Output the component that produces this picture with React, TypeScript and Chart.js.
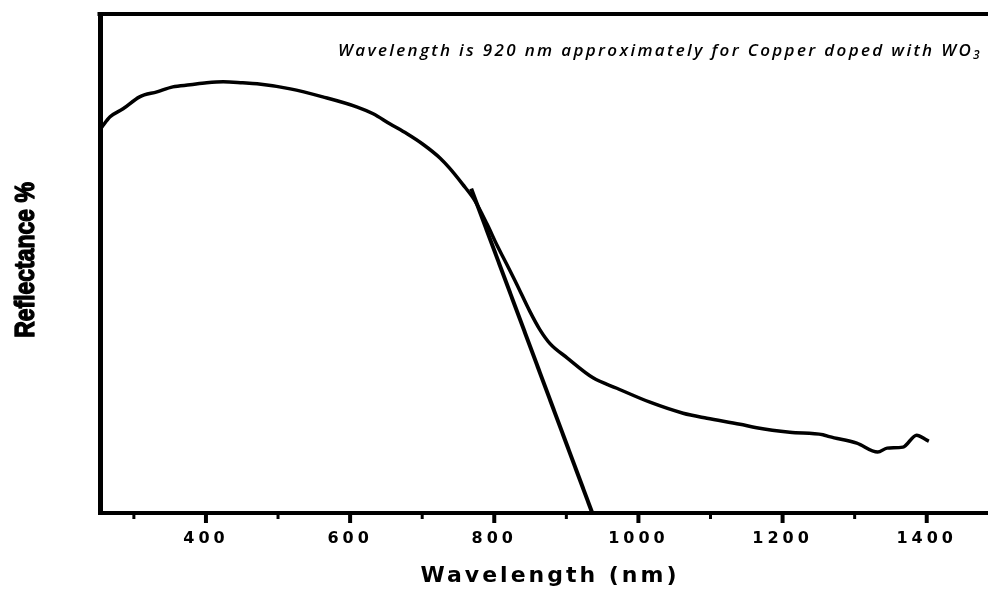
import { useEffect, useRef } from "react";
import { Chart, registerables } from "chart.js";

Chart.register(...registerables);

// Diffuse reflectance spectrum of Cu-doped WO3
const wavelengthNm = [
  253, 256, 267, 285, 308, 332, 354, 378, 401, 424, 451, 471, 517, 562, 609, 632,
  655, 679, 701, 725, 738, 756, 773, 790, 804, 815, 831, 849, 863, 877, 901, 937,
  970, 1016, 1062, 1095, 1141, 1164, 1210, 1256, 1265, 1303, 1332, 1345, 1367,
  1386, 1400, 1403,
];
const reflectancePct = [
  76.8, 77.4, 79.4, 81.0, 83.4, 84.4, 85.4, 85.8, 86.2, 86.4, 86.2, 86.0, 85.0, 83.4,
  81.4, 80.0, 78.0, 76.0, 73.9, 71.1, 69.1, 65.9, 62.6, 57.9, 53.6, 50.5, 45.9, 40.5,
  36.8, 34.0, 31.1, 27.1, 25.0, 22.2, 20.0, 19.0, 17.8, 17.1, 16.2, 15.7, 15.3, 14.0,
  12.2, 13.0, 13.2, 15.6, 14.6, 14.4,
];

// Tangent to the absorption edge, extrapolated to zero reflectance
const tangentNm = [768, 936];
const tangentPct = [65, 0];

// Axis ticks
const majorTicks = [400, 600, 800, 1000, 1200, 1400];
const minorTicks = [300, 500, 700, 900, 1100, 1300];

const xTitle = "Wavelength (nm)";
const yTitle = "Reflectance %";
const annotation = "Wavelength is 920 nm approximately for Copper doped with WO";
const annotationSub = "3";

const framePlugin = {
  id: "frame",
  beforeDraw(chart: any) {
    // wide tracking for the tick labels
    chart.ctx.letterSpacing = "4px";
  },
  afterDraw(chart: any) {
    const { ctx, chartArea, scales } = chart;
    const xs = scales.x;
    ctx.save();
    ctx.letterSpacing = "0px";
    ctx.strokeStyle = "#000";
    ctx.fillStyle = "#000";

    // top frame line
    ctx.lineWidth = 4;
    ctx.beginPath();
    ctx.moveTo(chartArea.left - 2.5, chartArea.top);
    ctx.lineTo(chartArea.right, chartArea.top);
    ctx.stroke();

    // tick marks below the x axis
    const base = chartArea.bottom + 1;
    ctx.lineWidth = 4;
    for (const v of majorTicks) {
      const px = xs.getPixelForValue(v);
      ctx.beginPath();
      ctx.moveTo(px, base);
      ctx.lineTo(px, base + 9);
      ctx.stroke();
    }
    ctx.lineWidth = 3;
    for (const v of minorTicks) {
      const px = xs.getPixelForValue(v);
      ctx.beginPath();
      ctx.moveTo(px, base);
      ctx.lineTo(px, base + 5);
      ctx.stroke();
    }

    // x axis title
    ctx.save();
    ctx.letterSpacing = "3px";
    ctx.font = 'bold 22px "DejaVu Sans", sans-serif';
    ctx.textAlign = "center";
    ctx.textBaseline = "middle";
    ctx.fillText(xTitle, (chartArea.left + chartArea.right) / 2 + 6, 576);
    ctx.restore();

    // y axis title, condensed and heavy
    ctx.save();
    ctx.translate(26, 260);
    ctx.rotate(-Math.PI / 2);
    ctx.scale(0.82, 1);
    ctx.font = 'bold 28px "Liberation Sans", Arial, sans-serif';
    ctx.textAlign = "center";
    ctx.textBaseline = "middle";
    ctx.lineWidth = 1.4;
    ctx.lineJoin = "round";
    ctx.fillText(yTitle, 0, 0);
    ctx.strokeText(yTitle, 0, 0);
    ctx.restore();

    // annotation text
    const startX = 338;
    const endX = 982;
    const baseY = 56;
    const mainFont = 'italic 600 17px "Open Sans", sans-serif';
    const subFont = 'italic 600 12px "Open Sans", sans-serif';
    ctx.font = mainFont;
    const w1 = ctx.measureText(annotation).width;
    ctx.font = subFont;
    const w2 = ctx.measureText(annotationSub).width;
    const spacing = Math.max(0, (endX - startX - w1 - w2) / (annotation.length + 1));
    ctx.letterSpacing = `${spacing}px`;
    ctx.textAlign = "left";
    ctx.textBaseline = "alphabetic";
    ctx.font = mainFont;
    ctx.fillText(annotation, startX, baseY);
    const mw = ctx.measureText(annotation).width;
    ctx.font = subFont;
    ctx.fillText(annotationSub, startX + mw, baseY + 3);
    ctx.restore();
  },
};

export default function App() {
  const canvasRef = useRef<HTMLCanvasElement | null>(null);

  useEffect(() => {
    if (!canvasRef.current) return;
    const spectrum = wavelengthNm.map((x, i) => ({ x, y: reflectancePct[i] }));
    const tangent = tangentNm.map((x, i) => ({ x, y: tangentPct[i] }));

    const chart = new Chart(canvasRef.current, {
      type: "line",
      data: {
        datasets: [
          {
            data: spectrum,
            borderColor: "#000",
            borderWidth: 3.5,
            pointRadius: 0,
            cubicInterpolationMode: "monotone",
            clip: 6,
          },
          {
            data: tangent,
            borderColor: "#000",
            borderWidth: 4,
            pointRadius: 0,
            tension: 0,
            clip: 6,
          },
        ],
      },
      options: {
        responsive: true,
        maintainAspectRatio: false,
        animation: false,
        layout: { padding: { top: 14, right: 0, left: 0, bottom: 0 } },
        plugins: {
          legend: { display: false },
          tooltip: { enabled: false },
        },
        scales: {
          x: {
            type: "linear",
            min: 253,
            max: 1485,
            afterBuildTicks: (s: any) => {
              s.ticks = majorTicks.map((v) => ({ value: v }));
            },
            afterFit: (s: any) => {
              s.height = 76;
            },
            grid: { display: false, drawTicks: false },
            border: { display: true, color: "#000", width: 4 },
            ticks: {
              color: "#000",
              font: { family: "DejaVu Sans", weight: "bold", size: 16 },
              padding: 16,
              maxRotation: 0,
              autoSkip: false,
              callback: (v: any) => String(v),
            },
            title: { display: false },
          },
          y: {
            type: "linear",
            min: 0,
            max: 100,
            afterFit: (s: any) => {
              s.width = 100;
            },
            ticks: { display: false },
            grid: { display: false, drawTicks: false },
            border: { display: true, color: "#000", width: 5 },
          },
        },
      },
      plugins: [framePlugin],
    });
    return () => chart.destroy();
  }, []);

  return (
    <div
      style={{
        position: "absolute",
        left: 0,
        top: 0,
        width: 988,
        height: 589,
        background: "#fff",
      }}
    >
      <canvas ref={canvasRef} />
    </div>
  );
}
